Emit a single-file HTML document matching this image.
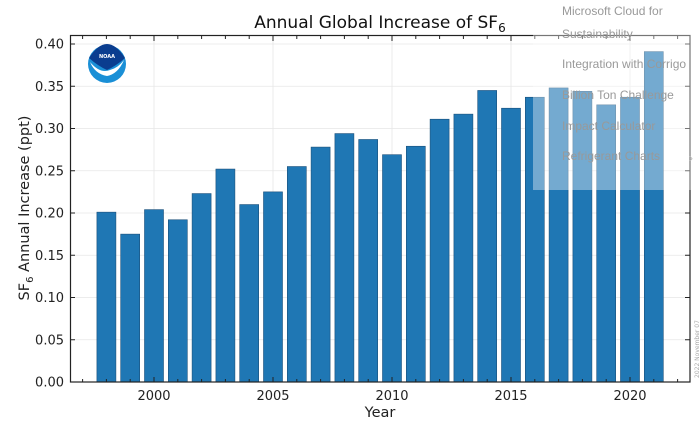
<!DOCTYPE html>
<html><head><meta charset="utf-8"><style>
html,body{margin:0;padding:0;background:#fff;width:700px;height:426px;overflow:hidden}
svg{display:block;font-family:"DejaVu Sans","Liberation Sans",sans-serif}
</style></head><body>
<svg id="s" width="700" height="426" viewBox="0 0 700 426" xmlns="http://www.w3.org/2000/svg">
<g id="grid" stroke="#e6e6e6" stroke-width="0.8"></g>
<g id="bars" fill="#1f77b4" stroke="#1a4f7a" stroke-width="0.6"></g>
<g id="ticks" stroke="#222" stroke-width="1"></g>
<rect x="70.5" y="35.5" width="619.5" height="346.5" fill="none" stroke="#222" stroke-width="1.2"/>
<g font-size="13" fill="#222" text-anchor="end">
<text x="64" y="386.5">0.00</text><text x="64" y="344.3">0.05</text><text x="64" y="302">0.10</text>
<text x="64" y="259.8">0.15</text><text x="64" y="217.5">0.20</text><text x="64" y="175.3">0.25</text>
<text x="64" y="133">0.30</text><text x="64" y="90.8">0.35</text><text x="64" y="48.5">0.40</text>
</g>
<g font-size="13" fill="#222" text-anchor="middle">
<text x="154" y="400">2000</text><text x="273" y="400">2005</text><text x="392" y="400">2010</text>
<text x="511" y="400">2015</text><text x="630" y="400">2020</text>
</g>
<text x="380" y="417" font-size="14.5" fill="#222" text-anchor="middle">Year</text>
<text x="380" y="28" font-size="17" fill="#111" text-anchor="middle">Annual Global Increase of SF<tspan font-size="12" dy="4">6</tspan></text>
<text transform="translate(29,208) rotate(-90)" font-size="14.5" fill="#222" text-anchor="middle">SF<tspan font-size="10" dy="4">6</tspan><tspan dy="-4"> Annual Increase (ppt)</tspan></text>
<g>
<circle cx="107" cy="64" r="19" fill="#1a8fd6"/>
<path d="M89 58 Q107 30 125 58 Q116 66 107 70 Q98 66 89 58Z" fill="#0a3d8f"/>
<path d="M90 62 Q100 74 110 70 Q118 68 124 60 Q118 74 107 76 Q95 74 90 62Z" fill="#fff"/>
<text x="107" y="58" font-size="5" fill="#fff" text-anchor="middle" font-weight="bold">NOAA</text>
</g>
<text transform="translate(699,378) rotate(-90)" font-size="6" fill="#aaa">2022 November 07</text>
<rect x="533" y="0" width="167" height="190" fill="#fff" fill-opacity="0.38"/>
<g font-size="12" fill="#999" font-family="Liberation Sans, sans-serif">
<text x="562" y="15">Microsoft Cloud for</text>
<text x="562" y="38">Sustainability</text>
<text x="562" y="68">Integration with Corrigo</text>
<text x="562" y="99">Billion Ton Challenge</text>
<text x="562" y="130">Impact Calculator</text>
<text x="562" y="160">Refrigerant Charts</text>
<text x="689" y="162" fill="#bbb">›</text>
</g>
</svg>
<script>
var NS="http://www.w3.org/2000/svg";
function el(p,t,a){var e=document.createElementNS(NS,t);for(var k in a)e.setAttribute(k,a[k]);document.getElementById(p).appendChild(e);}
var v=[.201,.175,.204,.192,.223,.252,.210,.225,.255,.278,.294,.287,.269,.279,.311,.317,.345,.324,.337,.348,.344,.328,.337,.391];
function X(y){return 154+23.8*(y-2000);}
function Y(q){return 382-q*845;}
for(var i=0;i<9;i++){var y=Y(i*0.05);el("grid","line",{x1:70,x2:690,y1:y,y2:y});
 el("ticks","line",{x1:70,x2:75,y1:y,y2:y});el("ticks","line",{x1:685,x2:690,y1:y,y2:y});}
for(var yr=1997;yr<=2022;yr++){var x=X(yr),maj=yr%5==0;
 if(maj)el("grid","line",{x1:x,x2:x,y1:36,y2:382});
 var L=maj?5:3;
 el("ticks","line",{x1:x,x2:x,y1:382,y2:382-L});el("ticks","line",{x1:x,x2:x,y1:36,y2:36+L});}
v.forEach(function(q,i){var c=X(1998+i);el("bars","rect",{x:c-9.5,y:Y(q),width:19,height:q*845});});
</script>
</body></html>
